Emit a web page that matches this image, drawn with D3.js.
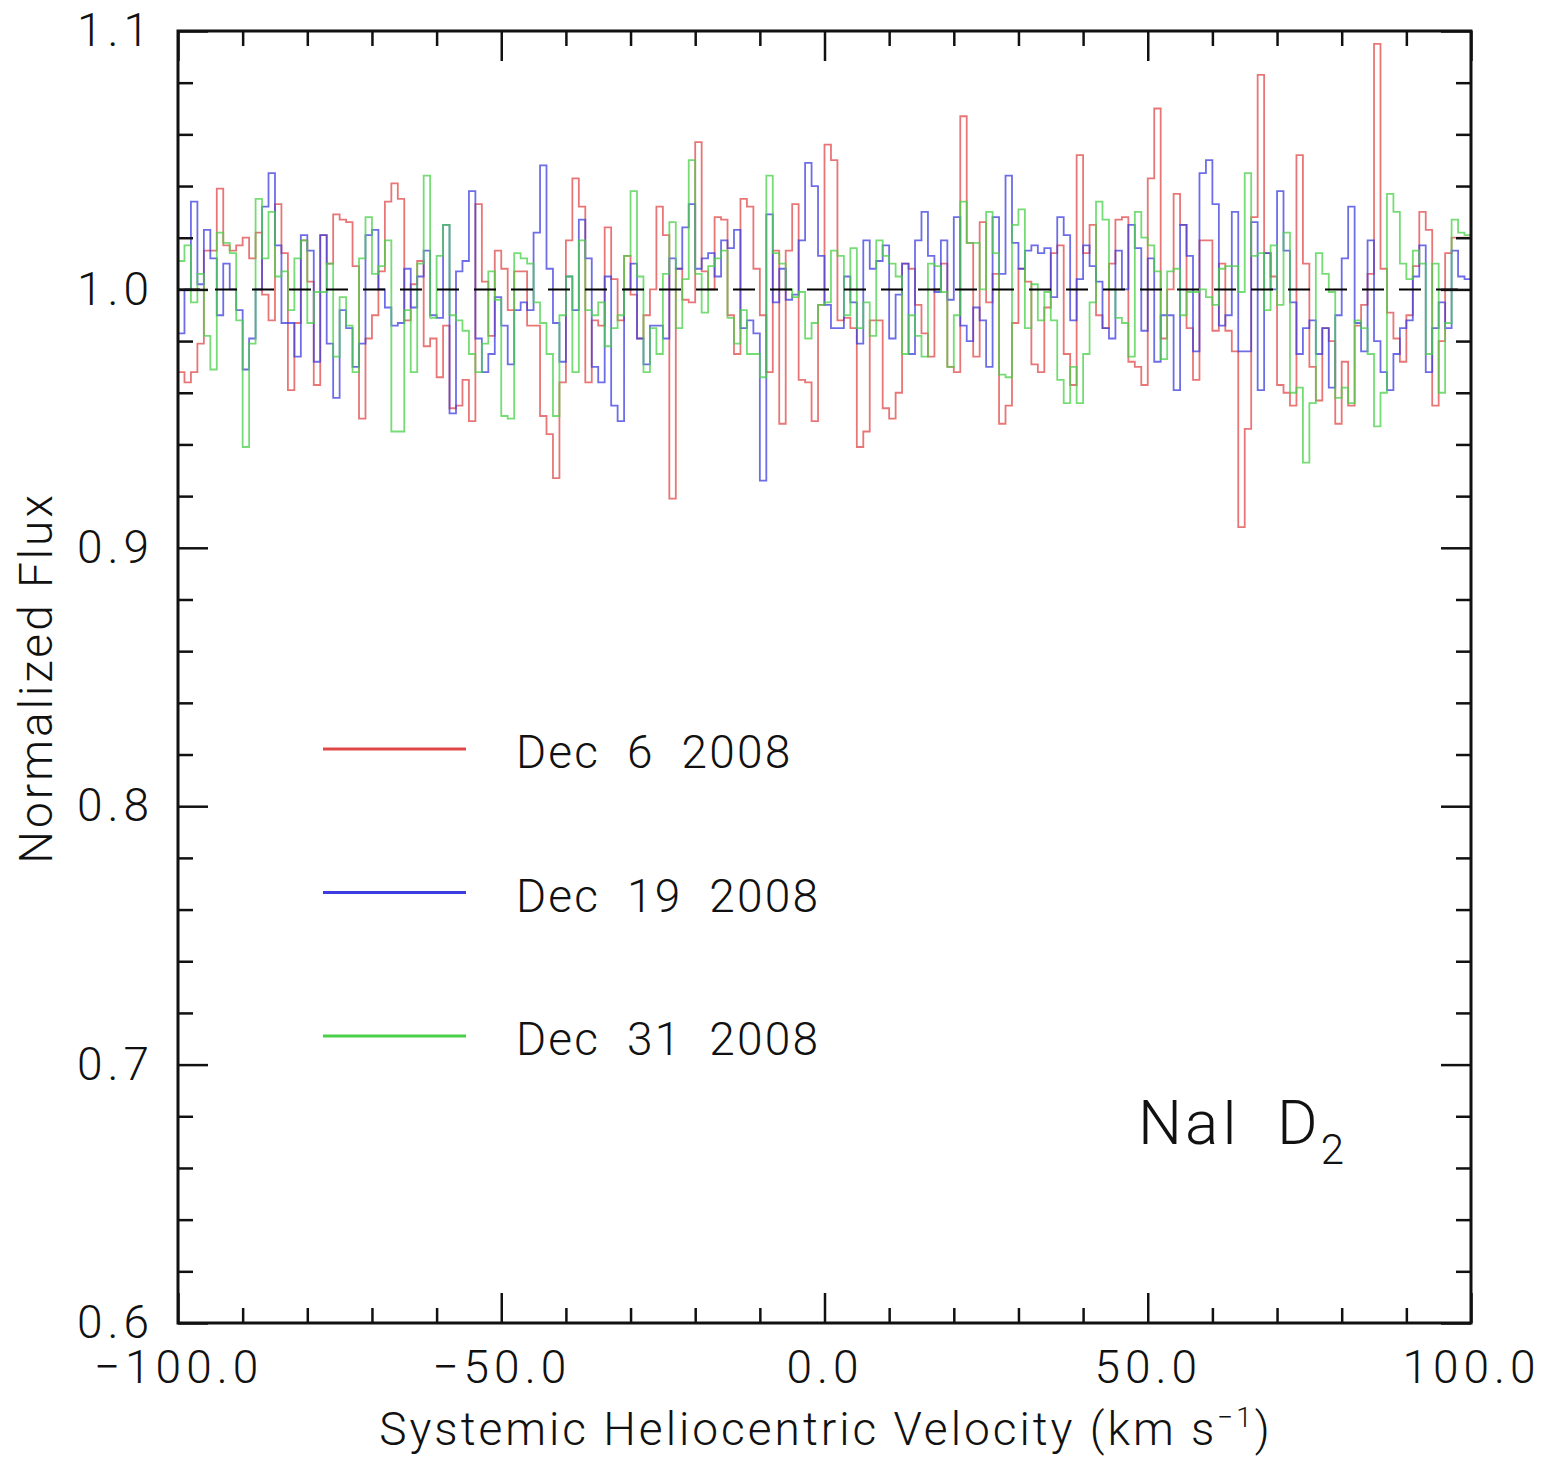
<!DOCTYPE html>
<html>
<head>
<meta charset="utf-8">
<script src="https://d3js.org/d3.v7.min.js"></script>
<style>
    body { margin: 0; background: #fff; }
    svg text { font-family: Roboto, 'DejaVu Sans', sans-serif; font-weight: 300; fill: #111; letter-spacing: 3px; }
</style>
</head>
<body>
<svg id="svg" width="1545" height="1457"></svg>
<script>
// bin left edges, 1 km/s wide
var velocity = d3.range(-100, 100, 1);

var dec6 = [0.968,0.964,0.968,0.979,1.015,1.015,1.039,1.017,1.015,1.017,1.020,1.012,1.022,0.998,0.988,1.033,1.014,0.961,0.987,1.019,
    1.003,0.963,1.021,1.010,1.029,1.027,1.026,1.009,0.950,0.981,0.990,1.007,1.034,1.041,1.035,0.988,1.002,1.011,0.978,0.981,
    0.966,0.986,0.954,0.955,0.965,0.949,1.033,1.003,0.982,1.015,1.008,0.992,1.007,1.007,0.986,0.986,0.951,0.944,0.927,0.964,
    1.019,1.043,1.032,0.964,0.988,0.986,1.024,1.004,0.988,1.013,0.998,0.981,0.990,1.000,1.032,1.021,0.919,1.008,0.996,0.995,
    1.057,1.007,1.000,1.028,1.027,0.990,0.975,1.035,1.032,1.008,0.990,0.968,1.015,0.948,1.015,1.033,0.965,0.964,0.949,0.994,
    1.056,1.050,0.988,0.989,0.985,0.939,0.945,0.988,0.988,0.954,0.950,0.960,1.010,1.008,0.994,0.983,0.974,1.000,1.010,0.970,
    0.968,1.067,1.018,0.974,1.026,0.995,1.006,0.948,0.955,0.987,1.008,1.003,0.971,0.968,0.993,1.014,1.017,0.975,0.963,1.052,
    1.014,1.025,0.990,0.985,1.010,1.027,1.028,0.972,0.970,0.963,1.043,1.070,0.981,1.000,1.037,1.025,0.985,0.965,1.019,1.019,
    0.984,1.010,0.984,0.976,0.908,0.946,1.028,1.083,1.014,1.005,0.963,0.960,0.955,1.052,1.010,0.970,0.957,0.985,0.980,0.948,
    0.972,0.955,0.986,0.994,1.006,1.095,1.008,0.991,0.981,0.972,0.990,1.009,1.030,1.023,0.955,0.980,1.014,1.020,1.020,1.020];

var dec19 = [0.983,1.000,1.034,1.002,1.023,1.012,0.990,1.010,1.000,0.992,0.969,0.981,1.000,1.032,1.045,1.017,0.987,0.987,0.974,1.021,
    1.015,0.972,1.021,0.979,0.958,0.992,0.985,0.970,0.979,1.021,1.023,1.000,0.993,0.986,0.987,1.008,0.993,1.005,1.015,0.990,
    0.989,1.025,0.952,1.007,1.011,1.038,0.981,0.968,0.975,0.997,0.986,0.971,0.992,0.995,0.992,1.022,1.048,1.008,0.987,0.972,
    1.005,0.992,1.027,1.012,0.970,0.964,1.005,0.955,0.949,1.000,1.010,0.981,0.971,0.986,0.986,0.981,1.012,1.008,1.024,1.033,
    1.008,1.012,1.014,1.005,1.019,1.016,1.023,0.985,0.988,0.983,0.926,1.029,0.995,1.008,0.996,0.998,1.019,1.049,1.040,1.013,
    0.994,0.985,0.985,1.005,0.995,0.979,1.019,1.008,1.011,1.017,0.981,0.998,1.010,0.975,1.019,1.030,1.013,0.999,1.019,0.996,
    1.028,0.986,0.980,0.993,0.988,0.970,1.028,1.006,1.044,1.018,1.008,1.015,1.017,1.014,1.016,0.997,1.028,1.021,0.988,1.004,
    1.017,1.009,1.003,0.985,0.981,1.015,1.000,1.025,1.016,0.984,1.012,0.972,0.990,0.990,0.961,1.025,1.013,0.976,1.045,1.050,
    1.033,0.986,0.990,1.030,0.976,0.976,1.026,0.961,1.014,1.000,1.038,1.015,0.995,0.975,0.985,0.988,0.975,0.985,0.962,0.990,
    1.012,1.032,0.987,0.976,1.019,0.980,0.968,0.961,0.975,0.985,0.988,1.005,1.017,0.968,0.985,0.995,0.985,1.015,1.005,1.004];

var dec31 = [1.011,1.017,0.995,1.006,0.982,0.969,1.022,1.018,1.014,0.988,0.939,0.979,1.035,1.012,1.030,1.005,1.007,0.992,1.012,1.019,
    0.987,0.999,0.999,1.010,0.974,0.997,0.986,0.968,1.012,1.028,1.006,1.009,1.019,0.945,0.945,0.992,0.968,1.010,1.044,0.989,
    1.013,1.025,0.990,0.988,0.984,0.975,0.968,0.979,1.007,0.996,0.951,0.950,1.014,1.012,1.010,0.995,0.987,0.975,0.951,0.990,
    1.005,0.968,1.019,0.992,0.990,0.995,0.978,0.985,0.990,1.013,1.038,1.005,0.968,0.985,0.975,1.006,1.026,0.985,1.004,1.050,
    1.006,0.991,1.009,1.012,1.015,0.989,0.979,0.992,0.975,0.975,0.966,1.044,1.014,1.010,1.000,0.997,0.999,0.981,0.987,0.994,
    0.995,1.015,1.013,0.990,1.016,0.985,0.995,0.982,1.019,1.013,1.010,1.005,0.975,0.990,0.982,0.974,1.010,1.009,0.999,0.970,
    0.990,1.034,1.018,1.018,1.000,1.030,1.014,0.967,0.966,1.025,1.031,0.985,1.002,0.988,0.999,0.988,0.965,0.956,0.970,0.956,
    0.975,0.995,1.034,1.027,1.000,0.989,0.987,0.974,1.030,1.020,1.017,1.007,0.973,1.007,1.008,0.990,0.999,0.999,1.000,0.997,
    0.994,1.008,1.009,1.009,0.999,1.045,1.013,1.014,0.992,1.017,0.994,1.022,0.960,0.962,0.933,0.956,1.014,1.006,0.999,0.958,
    0.962,0.956,0.988,0.985,0.975,0.947,0.960,1.037,1.030,1.010,1.004,1.015,1.010,0.975,1.010,0.960,0.987,1.027,1.022,1.021];

var seriesNames = ["Dec  6  2008", "Dec  19  2008", "Dec  31  2008"];
var seriesColors = ["#e04848", "#3c3ce0", "#48d048"];
var xMajorTicks = [-100, -50, 0, 50, 100];
var yMajorTicks = [0.6, 0.7, 0.8, 0.9, 1.0, 1.1];

var svg = d3.select("svg");
var plotL = 178, plotR = 1471, plotT = 31, plotB = 1323;

var x = d3.scaleLinear().domain([-100, 100]).range([plotL, plotR]);
var y = d3.scaleLinear().domain([0.6, 1.1]).range([plotB, plotT]);

svg.append("clipPath").attr("id", "clip")
    .append("rect").attr("x", plotL).attr("y", plotT).attr("width", plotR - plotL).attr("height", plotB - plotT);

// spectra as histograms
var line = d3.line().x(function(d){ return x(d[0]); }).y(function(d){ return y(d[1]); }).curve(d3.curveStepAfter);
[dec6, dec19, dec31].forEach(function(vals, i){
    var pts = velocity.map(function(v, k){ return [v, vals[k]]; });
    pts.push([100, vals[vals.length - 1]]);
    svg.append("path")
        .attr("clip-path", "url(#clip)")
        .attr("d", line(pts))
        .attr("fill", "none")
        .attr("stroke", seriesColors[i])
        .attr("stroke-opacity", 0.75)
        .attr("stroke-width", 1.8);
});

// continuum
svg.append("line")
    .attr("x1", x(-100)).attr("x2", x(100)).attr("y1", y(1)).attr("y2", y(1))
    .attr("stroke", "#000").attr("stroke-width", 2).attr("stroke-dasharray", "22,15");

// axes: ticks inward on all sides
function styleAxis(g){
    g.select(".domain").remove();
    g.selectAll(".tick line").attr("stroke", "#111").attr("stroke-width", 2.5);
    g.selectAll(".tick text").attr("font-size", 46).attr("fill", "#111")
        .style("font-family", "Roboto, 'DejaVu Sans', sans-serif").style("font-weight", 300)
        .style("letter-spacing", "5px");
}
var xMinor = d3.range(-90, 100, 10).filter(function(v){ return xMajorTicks.indexOf(v) < 0; });
var yMinor = d3.range(0, 26).map(function(i){ return +(0.6 + i * 0.02).toFixed(2); })
    .filter(function(v){ return yMajorTicks.indexOf(v) < 0; });
var fmtX = d3.format(".1f");

svg.append("g").attr("transform", "translate(0," + plotB + ")")
    .call(d3.axisBottom(x).tickValues(xMajorTicks).tickSize(-30).tickPadding(27).tickFormat(fmtX)).call(styleAxis);
svg.append("g").attr("transform", "translate(0," + plotB + ")")
    .call(d3.axisBottom(x).tickValues(xMinor).tickSize(-15).tickFormat("")).call(styleAxis);
svg.append("g").attr("transform", "translate(0," + plotT + ")")
    .call(d3.axisTop(x).tickValues(xMajorTicks).tickSize(-30).tickFormat("")).call(styleAxis);
svg.append("g").attr("transform", "translate(0," + plotT + ")")
    .call(d3.axisTop(x).tickValues(xMinor).tickSize(-15).tickFormat("")).call(styleAxis);

svg.append("g").attr("transform", "translate(" + plotL + ",0)")
    .call(d3.axisLeft(y).tickValues(yMajorTicks).tickSize(-30).tickPadding(24).tickFormat(d3.format(".1f"))).call(styleAxis);
svg.append("g").attr("transform", "translate(" + plotL + ",0)")
    .call(d3.axisLeft(y).tickValues(yMinor).tickSize(-15).tickFormat("")).call(styleAxis);
svg.append("g").attr("transform", "translate(" + plotR + ",0)")
    .call(d3.axisRight(y).tickValues(yMajorTicks).tickSize(-30).tickFormat("")).call(styleAxis);
svg.append("g").attr("transform", "translate(" + plotR + ",0)")
    .call(d3.axisRight(y).tickValues(yMinor).tickSize(-15).tickFormat("")).call(styleAxis);

// frame
svg.append("rect").attr("x", plotL).attr("y", plotT).attr("width", plotR - plotL).attr("height", plotB - plotT)
    .attr("fill", "none").attr("stroke", "#111").attr("stroke-width", 3);

// axis titles
svg.append("text").attr("x", 826).attr("y", 1445).attr("text-anchor", "middle").attr("font-size", 46)
    .html("Systemic Heliocentric Velocity (km s<tspan dy='-18' font-size='28'>\u22121</tspan><tspan dy='18'>)</tspan>");
svg.append("text").attr("transform", "translate(52,678) rotate(-90)").attr("text-anchor", "middle")
    .attr("font-size", 46).text("Normalized Flux");

// legend
seriesNames.forEach(function(name, i){
    var ly = 749 + i * 143.5;
    svg.append("line").attr("x1", 323).attr("x2", 466).attr("y1", ly).attr("y2", ly)
        .attr("stroke", seriesColors[i]).attr("stroke-width", 3);
    svg.append("text").attr("x", 516).attr("y", ly + 19).attr("font-size", 46)
        .style("white-space", "pre").style("letter-spacing", "2.2px").text(name);
});

// line label
svg.append("text").attr("x", 1138).attr("y", 1144).attr("font-size", 62)
    .style("white-space", "pre")
    .html("NaI  D<tspan dy='20' font-size='42'>2</tspan>");
</script>
</body>
</html>
